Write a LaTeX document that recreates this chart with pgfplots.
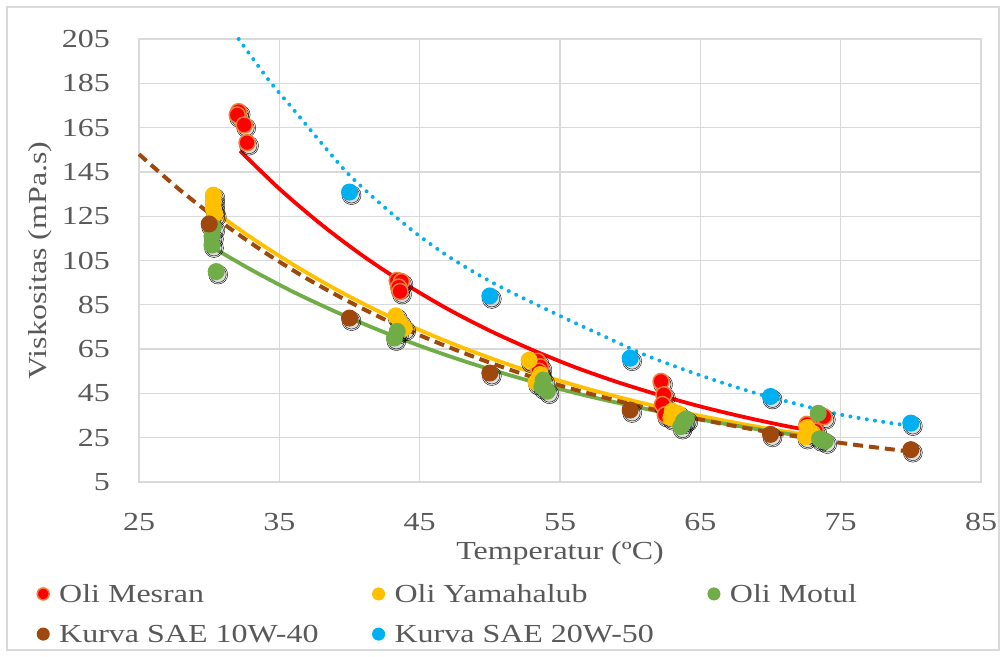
\documentclass[border=0pt]{standalone}
\usepackage{fontspec}
\setmainfont{Liberation Serif}[FakeStretch=1.23]
\usepackage{pgfplots}
\usepackage{pgfplotstable}
\pgfplotsset{compat=1.18}

\definecolor{cRed}{HTML}{FF0000}
\definecolor{cRedEdge}{HTML}{F07F3C}
\definecolor{cYel}{HTML}{FFC000}
\definecolor{cGrn}{HTML}{70AD47}
\definecolor{cBrn}{HTML}{9E480E}
\definecolor{cBlu}{HTML}{00B0F0}
\definecolor{cGrid}{HTML}{D9D9D9}
\definecolor{cTxt}{HTML}{595959}

\pgfplotstableread{
x y
32.1 172.2
32.0 170.7
32.5 166.2
32.7 158.2
43.4 96
43.7 95.5
43.5 93
43.6 91
53.4 59.5
53.6 57
53.5 55
62.2 50.4
62.4 44.4
62.3 40
62.5 35.4
73.8 34.5
72.6 31
72.8 29.5
73.2 28
}\tRed
\pgfplotstableread{
x y
30.3 134.5
30.3 131.5
30.3 128.5
30.4 126
43.3 80
43.6 77
43.9 74.5
52.8 60
53.6 53.5
53.3 50
63.0 37
63.4 36
62.9 34
72.6 29.5
72.5 25.5
73.0 27
}\tYel
\pgfplotstableread{
x y
30.3 120
30.2 116
30.2 112
30.5 100
43.2 70
43.4 73
53.8 51
54.1 46
53.7 48
63.8 32.5
63.6 30
64.0 33.5
73.4 36
73.9 23.5
73.5 24.5
}\tGrn
\pgfplotstableread{
x y
30 121.5
40 79
50 54.2
60 37.5
70 26.5
80 19.6
}\tBrn
\pgfplotstableread{
x y
40 135.9
50 89
60 60.9
70 43.6
80 31.6
}\tBlu

\pgfplotsset{
  shadowA/.style={only marks, mark=*, mark size=9.5bp, forget plot,
    mark options={fill=black, draw=none, fill opacity=0.06, xshift=2bp, yshift=-3bp}},
  shadowB/.style={only marks, mark=*, mark size=8bp, forget plot,
    mark options={fill=black, draw=none, fill opacity=0.08, xshift=2bp, yshift=-3bp}},
}

\begin{document}
\begin{tikzpicture}
\path[use as bounding box, fill=white] (0,0) rectangle (1006bp,657bp);
\draw[cGrid, line width=1.3bp] (7bp,7bp) rectangle (999bp,650bp);
\begin{axis}[
  at={(139bp,175bp)}, anchor=south west,
  scale only axis, width=842bp, height=443bp,
  xmin=25, xmax=85, ymin=5, ymax=205,
  xtick={25,35,...,85}, ytick={5,25,...,205},
  font=\fontsize{26bp}{31bp}\selectfont,
  /pgf/number format/assume math mode=true,
  grid=major,
  major grid style={cGrid, line width=1.3bp},
  axis line style={cGrid, line width=1.3bp},
  major tick length=0pt,
  tick label style={text=cTxt},
  yticklabel style={anchor=east, inner sep=0pt, xshift=-29bp},
  xticklabel style={anchor=north, inner sep=0pt, yshift=-31bp},
  xlabel={Temperatur (ºC)},
  ylabel={Viskositas (mPa.s)},
  label style={text=cTxt},
  xlabel style={at={(axis description cs:0.5,-0.1332)}, anchor=north, inner sep=0pt},
  ylabel style={at={(axis description cs:-0.1176,0.5)}, anchor=center, inner sep=0pt},
  legend columns=3,
  legend cell align=left,
  legend style={draw=none, fill=none, text=cTxt,
    at={(axis description cs:-0.1211,-0.2302)}, anchor=north west,
    inner sep=0pt, row sep=21bp,
    nodes={inner xsep=10bp, inner ysep=0pt},
    /tikz/every even column/.append style={column sep=44bp}},
  legend image code/.code={\draw[#1, mark size=6bp] plot coordinates {(0bp,0bp)};},
  clip=false,
]
% shadows
\addplot[shadowA] table {\tRed};
\addplot[shadowA] table {\tYel};
\addplot[shadowA] table {\tGrn};
\addplot[shadowA] table {\tBrn};
\addplot[shadowA] table {\tBlu};
\addplot[shadowB] table {\tRed};
\addplot[shadowB] table {\tYel};
\addplot[shadowB] table {\tGrn};
\addplot[shadowB] table {\tBrn};
\addplot[shadowB] table {\tBlu};
% markers
\addplot[only marks, mark=*, mark size=8bp, mark options={fill=cRed, draw=cRedEdge, line width=1.5bp}] table {\tRed};
\addlegendentry{Oli Mesran}
\addplot[only marks, mark=*, mark size=8bp, mark options={fill=cYel, draw=cYel, line width=1bp}] table {\tYel};
\addlegendentry{Oli Yamahalub}
\addplot[only marks, mark=*, mark size=8bp, mark options={fill=cGrn, draw=cGrn, line width=1bp}] table {\tGrn};
\addlegendentry{Oli Motul}
\addplot[only marks, mark=*, mark size=8bp, mark options={fill=cBrn, draw=cBrn, line width=1bp}] table {\tBrn};
\addlegendentry{Kurva SAE 10W-40}
\addplot[only marks, mark=*, mark size=8bp, mark options={fill=cBlu, draw=cBlu, line width=1bp}] table {\tBlu};
\addlegendentry{Kurva SAE 20W-50}
% trendlines
\addplot[cRed, line width=3.8bp, smooth, forget plot] coordinates {
(32.2,154.5)(35,137.4)(38,121.2)(41,106.9)(44,94.3)(47,83.1)(50,73.3)(53,64.7)(56,57.0)(59,50.3)(62,44.4)(65,39.1)(68,34.5)(71,30.4)(73.8,27.1)};
\addplot[cYel, line width=3.8bp, smooth, forget plot] coordinates {
(30.3,127.5)(33,115.3)(36,103.1)(39,92.1)(42,82.3)(45,73.6)(48,65.8)(51,58.8)(54,52.6)(57,47.0)(60,42.0)(63,37.5)(66,33.6)(69,30.0)(72,26.8)(73.2,25.6)};
\addplot[cGrn, line width=3.8bp, smooth, forget plot] coordinates {
(30.3,110.7)(33,100.8)(36,90.8)(39,81.9)(42,73.8)(45,66.5)(48,59.9)(51,54.0)(54,48.6)(57,43.8)(60,39.5)(63,35.6)(66,32.1)(69,28.9)(72,26.0)(73.8,24.5)};
\addplot[cBrn, line width=4bp, dash pattern=on 10bp off 6bp, smooth, forget plot] coordinates {
(25,153)(28,136.4)(31,121.7)(34,108.5)(37,96.7)(40,86.3)(43,76.9)(46,68.6)(49,61.2)(52,54.5)(55,48.6)(58,43.4)(61,38.7)(64,34.5)(67,30.8)(70,27.4)(73,24.5)(76,21.8)(80,18.7)};
\addplot[cBlu, line width=4bp, dash pattern=on 0bp off 8.3bp, line cap=round, smooth, forget plot] coordinates {
(32.1,205)(34.3,186)(35.9,174)(38,158)(40,143.5)(42.5,129)(45,116)(47.5,105)(50.7,93.3)(55.1,79.7)(57.9,71.5)(61.2,62)(65.2,52.7)(68.8,45.4)(71.6,40.7)(75,35.4)(78.8,31.4)(80,30.6)};
\end{axis}
\end{tikzpicture}
\end{document}
